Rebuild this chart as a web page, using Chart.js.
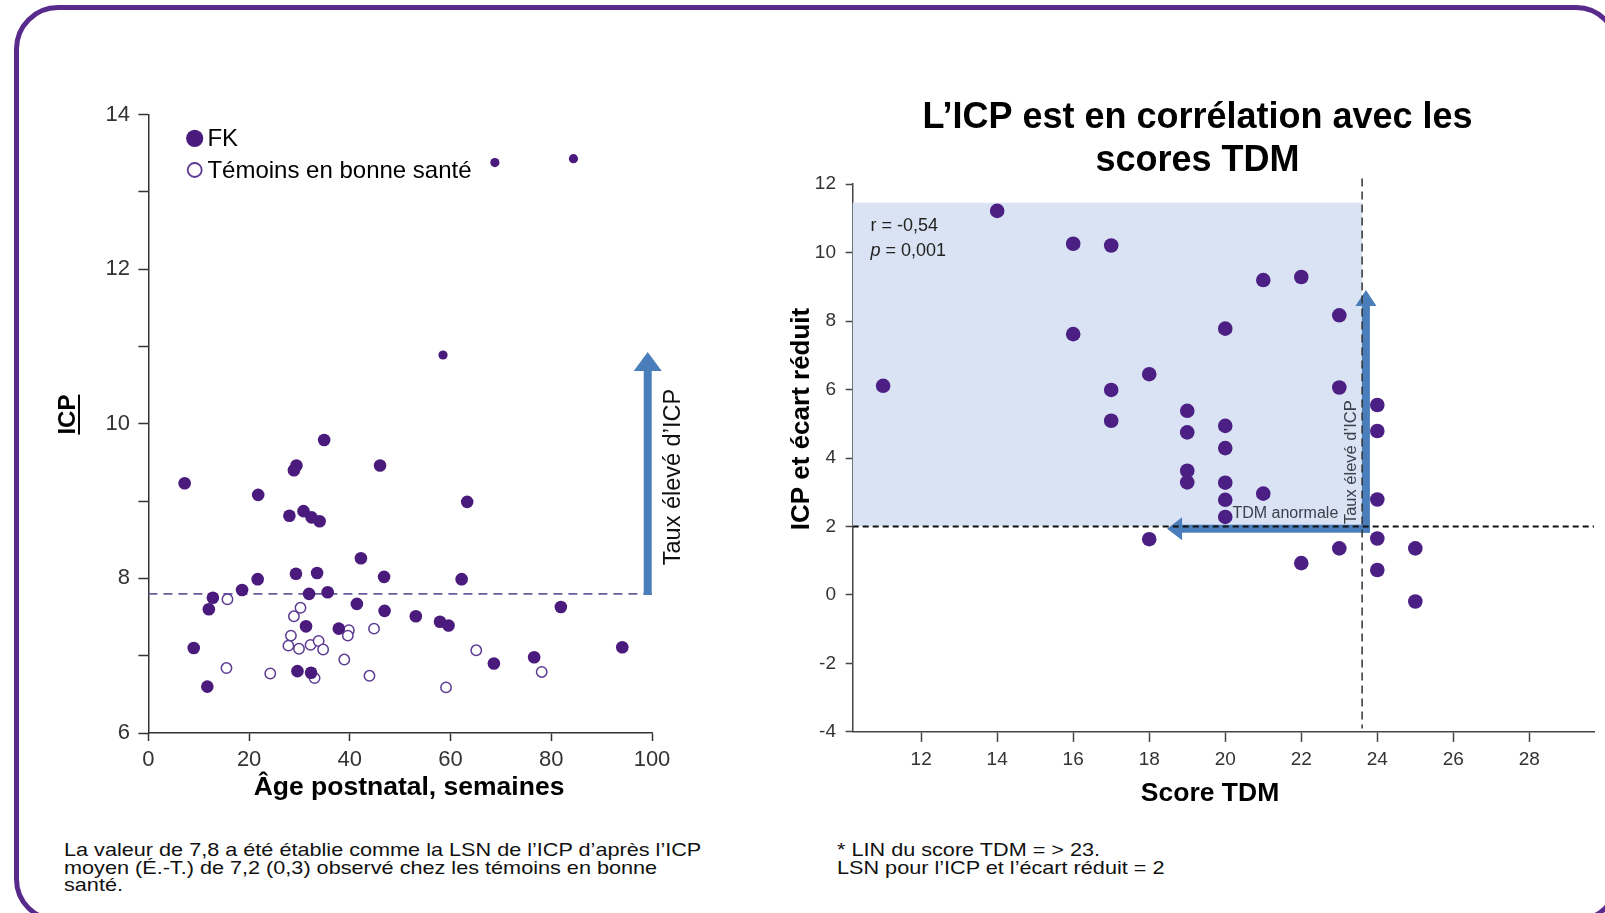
<!DOCTYPE html>
<html lang="fr">
<head>
<meta charset="utf-8">
<title>ICP – FK et témoins</title>
<script src="https://cdn.jsdelivr.net/npm/chart.js@4/dist/chart.umd.min.js"></script>
<style>
  html, body { margin: 0; padding: 0; background: #fff; width: 1605px; height: 913px; overflow: hidden;
    font-family: "Liberation Sans", Arial, Helvetica, sans-serif; }
  #frame { position: absolute; left: 14px; top: 5px; width: 1606px; height: 918px; box-sizing: border-box;
    border: 5px solid #582a8c; border-radius: 44px; }
  .panel { position: absolute; }
  #left { left: 40px; top: 80px; width: 640px; height: 730px; }
  #right { left: 760px; top: 60px; width: 875px; height: 760px; }
  .note { position: absolute; color: #111; font-size: 18.5px; line-height: 17.6px; white-space: nowrap;
    transform: scaleX(1.17); transform-origin: 0 0; }
</style>
</head>
<body>
<div id="frame"></div>
<div id="left" class="panel"><canvas id="icpAge"></canvas></div>
<div id="right" class="panel"><canvas id="icpTdm"></canvas></div>
<div class="note" style="left:64px; top:841px;">La valeur de 7,8 a été établie comme la LSN de l’ICP d’après l’ICP<br>moyen (É.-T.) de 7,2 (0,3) observé chez les témoins en bonne<br>santé.</div>
<div class="note" style="left:837px; top:841px;">* LIN du score TDM = &gt; 23.<br>LSN pour l’ICP et l’écart réduit = 2</div>

<script>
// ---- Panel 1: ICP vs postnatal age ----
const ageTicks = [0, 20, 40, 60, 80, 100];
const icpTicks = [6, 7, 8, 9, 10, 11, 12, 13, 14];
const icpLabels = [6, 8, 10, 12, 14];

const fkAge = [7.2, 21.8, 28.9, 29.4, 34.9, 46.0, 63.3, 28.0, 30.8, 32.4, 34.0, 42.2, 21.7, 29.3, 33.5,
  46.8, 62.2, 18.6, 12.8, 31.9, 35.6, 12.0, 41.4, 46.9, 53.1, 57.9, 59.6, 81.9, 31.3, 37.8,
  9.0, 94.1, 76.6, 68.6, 29.6, 32.3, 11.7, 68.8, 84.4, 58.5];
const fkIcp = [9.23, 9.08, 9.40, 9.46, 9.79, 9.46, 8.99, 8.81, 8.87, 8.79, 8.74, 8.26, 7.99, 8.06, 8.07,
  8.02, 7.99, 7.85, 7.75, 7.80, 7.82, 7.60, 7.67, 7.58, 7.51, 7.44, 7.39, 7.63, 7.38, 7.35,
  7.10, 7.11, 6.98, 6.90, 6.80, 6.78, 6.60, 13.38, 13.43, 10.89];

const ctrlAge = [15.7, 30.2, 28.9, 28.3, 27.8, 29.9, 32.2, 33.8, 34.7, 39.8, 39.6, 44.8, 38.9, 15.5,
  24.2, 33.0, 43.9, 59.1, 65.1, 78.1];
const ctrlIcp = [7.73, 7.62, 7.51, 7.26, 7.13, 7.09, 7.14, 7.19, 7.08, 7.33, 7.26, 7.35, 6.95, 6.84,
  6.77, 6.71, 6.74, 6.59, 7.07, 6.79];

const icpLsn = 7.8;          // upper limit of normal for ICP
const icpArrowTop = 10.93;

// ---- Panel 2: ICP z-score vs CT score ----
const tdmTicks = [12, 14, 16, 18, 20, 22, 24, 26, 28];
const zTicks = [-4, -2, 0, 2, 4, 6, 8, 10, 12];

const tdmScore = [11, 14, 16, 17, 16, 17, 17, 18, 19, 19, 20, 20, 20, 21, 22, 23, 23, 24, 24,
  19, 19, 20, 20, 20, 21, 24, 18, 24, 23, 22, 24, 25, 25];
const tdmZ = [6.11, 11.22, 10.26, 10.21, 7.62, 5.99, 5.09, 6.45, 5.38, 4.75, 7.78, 4.94, 4.29, 9.20,
  9.29, 8.17, 6.06, 5.55, 4.79, 3.63, 3.29, 3.28, 2.78, 2.28, 2.96, 2.79, 1.63, 1.65, 1.36,
  0.93, 0.73, 1.36, -0.19];

const tdmLin = 23.6;          // lower limit of normal for the CT score
const zLsn = 2;               // upper limit of normal for the ICP z-score
const shadeTop = 11.46;

const FONT = "'Liberation Sans', Arial, Helvetica, sans-serif";
Chart.defaults.font.family = FONT;
Chart.defaults.color = '#222';

const pts = (xs, ys) => xs.map((x, i) => ({ x, y: ys[i] }));
const fixedTicks = values => scale => { scale.ticks = values.map(v => ({ value: v })); };

// Draws boxes, arrows, free text and a marker legend below or above the datasets.
function paintItems(chart, items) {
  if (!items) return;
  const { ctx, chartArea: area } = chart;
  const sx = chart.scales.x, sy = chart.scales.y;
  const place = it => [
    it.x !== undefined ? sx.getPixelForValue(it.x) : area.left + it.dx,
    it.y !== undefined ? sy.getPixelForValue(it.y) : area.top + it.dy
  ];
  for (const it of items) {
    ctx.save();
    if (it.type === 'box') {
      const l = sx.getPixelForValue(it.x0), r = sx.getPixelForValue(it.x1);
      const t = sy.getPixelForValue(it.y1), b = sy.getPixelForValue(it.y0);
      ctx.fillStyle = it.color;
      ctx.fillRect(l, t, r - l, b - t);
    } else if (it.type === 'arrow') {
      const x0 = sx.getPixelForValue(it.from[0]), y0 = sy.getPixelForValue(it.from[1]);
      const x1 = sx.getPixelForValue(it.to[0]), y1 = sy.getPixelForValue(it.to[1]);
      const len = Math.hypot(x1 - x0, y1 - y0);
      ctx.translate(x0, y0);
      ctx.rotate(Math.atan2(y1 - y0, x1 - x0));
      ctx.fillStyle = it.color;
      const w = it.width, tail = it.tail || 0;
      ctx.fillRect(-tail, -w / 2, len - it.headLength + tail + 0.5, w);
      ctx.beginPath();
      ctx.moveTo(len, 0);
      ctx.lineTo(len - it.headLength, -it.headWidth / 2);
      ctx.lineTo(len - it.headLength, it.headWidth / 2);
      ctx.closePath();
      ctx.fill();
    } else if (it.type === 'text') {
      const [x, y] = place(it);
      ctx.translate(x, y);
      if (it.rotate) ctx.rotate(it.rotate * Math.PI / 180);
      ctx.fillStyle = it.color || '#222';
      ctx.textAlign = 'left';
      ctx.textBaseline = 'alphabetic';
      const runs = it.runs || [{ text: it.text }];
      const fonts = runs.map(r => `${r.style || 'normal'} ${it.weight || 'normal'} ${it.size}px ${it.family || FONT}`);
      const widths = runs.map((r, i) => { ctx.font = fonts[i]; return ctx.measureText(r.text).width; });
      const total = widths.reduce((a, b) => a + b, 0);
      let cx = it.align === 'center' ? -total / 2 : it.align === 'right' ? -total : 0;
      const start = cx;
      runs.forEach((r, i) => { ctx.font = fonts[i]; ctx.fillText(r.text, cx, 0); cx += widths[i]; });
      if (it.underline) ctx.fillRect(start, it.underline, total, 2);
    } else if (it.type === 'legend') {
      const sets = chart.data.datasets.filter(d => d.label);
      sets.forEach((d, i) => {
        const mx = area.left + it.dx, my = area.top + it.dy + i * it.gap;
        ctx.beginPath();
        ctx.arc(mx, my, it.radius[i], 0, Math.PI * 2);
        ctx.fillStyle = d.backgroundColor;
        ctx.fill();
        if (d.borderWidth) { ctx.lineWidth = d.borderWidth + 0.3; ctx.strokeStyle = d.borderColor; ctx.stroke(); }
        ctx.fillStyle = '#000';
        ctx.font = `${it.size}px ${FONT}`;
        ctx.textAlign = 'left';
        ctx.textBaseline = 'alphabetic';
        ctx.fillText(d.label, area.left + it.textDx, my + it.baseline);
      });
    }
    ctx.restore();
  }
}

const overlay = {
  id: 'overlay',
  beforeDatasetsDraw(chart, args, opts) { paintItems(chart, opts.under); },
  afterDatasetsDraw(chart, args, opts) { paintItems(chart, opts.over); }
};
Chart.register(overlay);

const axisColor = '#333';
const ARROW_BLUE = '#4a7ebb';

// ---------- ICP vs âge postnatal ----------
new Chart(document.getElementById('icpAge'), {
  type: 'scatter',
  data: {
    datasets: [
      {
        label: 'FK',
        data: pts(fkAge, fkIcp),
        backgroundColor: '#4a1a7d',
        borderColor: '#4a1a7d',
        borderWidth: 0,
        pointRadius: c => (c.raw && c.raw.y > 10.5 ? 4.6 : 6.3),
        order: 1
      },
      {
        label: 'Témoins en bonne santé',
        data: pts(ctrlAge, ctrlIcp),
        backgroundColor: '#ffffff',
        borderColor: '#5d3b93',
        borderWidth: 1.5,
        pointRadius: 5.2,
        order: 2
      },
      {
        data: [{ x: ageTicks[0], y: icpLsn }, { x: ageTicks[ageTicks.length - 1], y: icpLsn }],
        showLine: true,
        borderColor: '#6b5b9c',
        borderWidth: 1.8,
        borderDash: [9, 6],
        pointRadius: 0,
        order: 3
      }
    ]
  },
  options: {
    responsive: true,
    maintainAspectRatio: false,
    animation: false,
    events: [],
    layout: { padding: { left: 0, top: 34.6, right: 28, bottom: 0 } },
    plugins: {
      legend: { display: false },
      tooltip: { enabled: false },
      overlay: {
        over: [
          { type: 'arrow', from: [99.15, icpLsn], to: [99.15, icpArrowTop], width: 8, headWidth: 28,
            headLength: 19, tail: 1, color: ARROW_BLUE },
          { type: 'text', x: 105.6, y: 8.17, rotate: -90, text: 'Taux élevé d\u2019ICP', size: 23.5, color: '#111' },
          { type: 'text', dx: -73.4, dy: 300, rotate: -90, align: 'center', text: 'ICP', size: 24,
            weight: 'bold', color: '#000', underline: 3 },
          { type: 'text', dx: 260.6, dy: 679.9, align: 'center', text: 'Âge postnatal, semaines', size: 26.5,
            weight: 'bold', color: '#000' },
          { type: 'legend', dx: 46.3, dy: 23.7, gap: 31.7, radius: [8.6, 7], textDx: 59, baseline: 8, size: 24 }
        ]
      }
    },
    scales: {
      x: {
        type: 'linear', min: 0, max: 100,
        afterBuildTicks: fixedTicks(ageTicks),
        afterFit: s => { s.height = 77; },
        border: { display: true, color: axisColor, width: 1.5 },
        grid: { drawOnChartArea: false, drawTicks: true, tickLength: 8, tickColor: axisColor, tickWidth: 1.5 },
        ticks: { font: { size: 22 }, color: '#333', padding: 6, maxRotation: 0 }
      },
      y: {
        type: 'linear', min: 6, max: 14,
        afterBuildTicks: fixedTicks(icpTicks),
        afterFit: s => { s.width = 108.4; },
        border: { display: true, color: axisColor, width: 1.5 },
        grid: { drawOnChartArea: false, drawTicks: true, tickLength: 10, tickColor: axisColor, tickWidth: 1.5 },
        ticks: { font: { size: 22 }, color: '#333', padding: 8.5,
          callback: v => (icpLabels.includes(v) ? String(v) : '') }
      }
    }
  }
});

// ---------- ICP (écart réduit) vs score TDM ----------
new Chart(document.getElementById('icpTdm'), {
  type: 'scatter',
  data: {
    datasets: [
      {
        label: 'Patients FK',
        data: pts(tdmScore, tdmZ),
        backgroundColor: '#4b1f83',
        borderColor: '#4b1f83',
        borderWidth: 0,
        pointRadius: 7.3,
        order: 1
      },
      {
        data: [{ x: 10.2, y: zLsn }, { x: 29.7, y: zLsn }],
        showLine: true,
        borderColor: '#111',
        borderWidth: 2,
        borderDash: [6, 4],
        pointRadius: 0,
        order: 2
      },
      {
        data: [{ x: tdmLin, y: 12.17 }, { x: tdmLin, y: -3.9 }],
        showLine: true,
        borderColor: '#333',
        borderWidth: 1.5,
        borderDash: [8, 5],
        pointRadius: 0,
        clip: false,
        order: 3
      }
    ]
  },
  options: {
    responsive: true,
    maintainAspectRatio: false,
    animation: false,
    events: [],
    layout: { padding: { left: 41, top: 0, right: 41, bottom: 0 } },
    plugins: {
      legend: { display: false },
      tooltip: { enabled: false },
      title: {
        display: true,
        text: ['L\u2019ICP est en corrélation avec les', 'scores TDM'],
        color: '#000',
        font: { size: 36, weight: 'bold', lineHeight: 1.2 },
        padding: { top: 36.6, bottom: 1.2 }
      },
      overlay: {
        under: [
          { type: 'box', x0: 10.2, x1: tdmLin, y0: zLsn, y1: shadeTop, color: '#dae3f3' },
          { type: 'arrow', from: [23.7, 1.936], to: [23.7, 8.91], width: 8, headWidth: 21,
            headLength: 16, tail: 4, color: ARROW_BLUE },
          { type: 'arrow', from: [23.7, 1.936], to: [18.47, 1.936], width: 8, headWidth: 23,
            headLength: 15, tail: 4, color: ARROW_BLUE }
        ],
        over: [
          { type: 'text', x: 10.67, y: 10.64, text: 'r = -0,54', size: 18, color: '#222' },
          { type: 'text', x: 10.67, y: 9.90, runs: [{ text: 'p', style: 'italic' }, { text: ' = 0,001' }],
            size: 18, color: '#222' },
          { type: 'text', x: 20.19, y: 2.25, text: 'TDM anormale', size: 16, color: '#3a3f4a' },
          { type: 'text', x: 23.44, y: 2.07, rotate: -90, text: 'Taux élevé d\u2019ICP', size: 16.5, color: '#3a3f4a' },
          { type: 'text', dx: -43.5, dy: 234.8, rotate: -90, align: 'center', text: 'ICP et écart réduit',
            size: 26, weight: 'bold', color: '#000' },
          { type: 'text', dx: 357.3, dy: 616.3, align: 'center', text: 'Score TDM', size: 26.5,
            weight: 'bold', color: '#000' }
        ]
      }
    },
    scales: {
      x: {
        type: 'linear', min: 10.2, max: 29.7,
        afterBuildTicks: fixedTicks(tdmTicks),
        afterFit: s => { s.height = 88.1; },
        border: { display: true, color: '#444', width: 1.5 },
        grid: { drawOnChartArea: false, drawTicks: true, tickLength: 10, tickColor: '#444', tickWidth: 1.5 },
        ticks: { font: { size: 19 }, color: '#333', padding: 6.6, maxRotation: 0 }
      },
      y: {
        type: 'linear', min: -4, max: 12,
        afterBuildTicks: fixedTicks(zTicks),
        afterFit: s => { s.width = 51.7; },
        border: { display: true, color: '#444', width: 1.5 },
        grid: { drawOnChartArea: false, drawTicks: true, tickLength: 7, tickColor: '#444', tickWidth: 1.5 },
        ticks: { font: { size: 19 }, color: '#333', padding: 9.7 }
      }
    }
  }
});
</script>
</body>
</html>
